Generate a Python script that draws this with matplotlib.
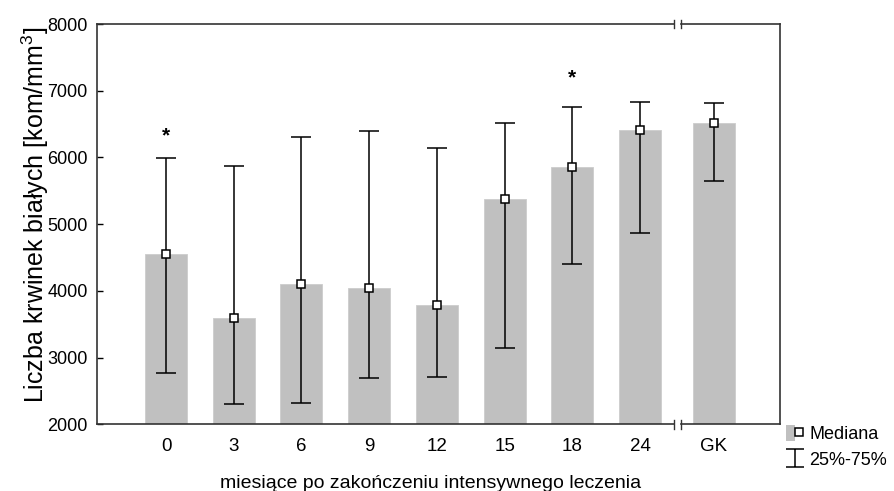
import matplotlib
matplotlib.use("Agg")
import matplotlib.pyplot as plt
from matplotlib.lines import Line2D
from matplotlib.patches import Patch
from matplotlib.path import Path
from matplotlib.legend_handler import HandlerTuple

plt.rcParams['font.family'] = ['Liberation Sans', 'DejaVu Sans']
plt.rcParams['mathtext.fontset'] = 'custom'
plt.rcParams['mathtext.rm'] = 'Liberation Sans'
plt.rcParams['mathtext.default'] = 'regular'

# dane: mediana i kwartyle
labels = ['0', '3', '6', '9', '12', '15', '18', '24', 'GK']
mediana = [4560, 3600, 4100, 4040, 3795, 5375, 5855, 6410, 6510]
q25 = [2770, 2300, 2320, 2690, 2710, 3145, 4410, 4870, 5650]
q75 = [5990, 5875, 6310, 6400, 6145, 6510, 6755, 6825, 6820]
gwiazdki = [6330, None, None, None, None, None, 7190, None, None]

# pozycje na osi x (GK oddzielone przerwa osi)
pos = [0, 1, 2, 3, 4, 5, 6, 7, 8.087]
przerwa = 7.556
gap = 0.052
xmin, xmax = -1.013, 9.068

fig = plt.figure(figsize=(8.95, 4.91), dpi=100)
ax = fig.add_axes([0.1089, 0.1358, 0.7626, 0.8153])

ax.bar(pos, mediana, width=0.62, bottom=0, color='#c0c0c0',
       edgecolor='#cccccc', linewidth=0.6, zorder=1)
err = [[m - a for m, a in zip(mediana, q25)], [b - m for m, b in zip(mediana, q75)]]
ax.errorbar(pos, mediana, yerr=err, fmt='s', ms=6, mfc='white', mec='black',
            mew=1.1, ecolor='black', elinewidth=1.1, capsize=7.5, capthick=1.1,
            zorder=3)

for p, g in zip(pos, gwiazdki):
    if g is not None:
        ax.text(p, g, '*', ha='center', va='center', fontsize=15,
                fontweight='bold', zorder=4)

ax.set_xlim(xmin, xmax)
ax.set_ylim(2000, 8000)
ax.set_yticks([2000, 3000, 4000, 5000, 6000, 7000, 8000])
ax.set_xticks(pos)
ax.set_xticklabels(labels)
ax.tick_params(axis='y', direction='in', length=4, width=1, pad=7, labelsize=13)
ax.tick_params(axis='x', length=0, pad=10, labelsize=13.5)

# ramka z przerwa osi
for s in ['top', 'bottom']:
    ax.spines[s].set_visible(False)
for s in ['left', 'right']:
    ax.spines[s].set_color('#333333')
    ax.spines[s].set_linewidth(1.2)
tr = ax.get_xaxis_transform()
for y in [0, 1]:
    ax.plot([xmin, przerwa - gap], [y, y], color='#333333', lw=1.2,
            transform=tr, clip_on=False, zorder=5)
    ax.plot([przerwa + gap, xmax], [y, y], color='#333333', lw=1.2,
            transform=tr, clip_on=False, zorder=5)
    for xb in [przerwa - gap, przerwa + gap]:
        ax.plot([xb, xb], [y - 0.011, y + 0.011], color='#333333', lw=1.0,
                transform=tr, clip_on=False, zorder=5)

ax.set_ylabel('Liczba krwinek białych [kom/mm$^{3}$]', fontsize=18)
ax.yaxis.set_label_coords(-0.068, 0.523)
ax.set_xlabel('miesiące po zakończeniu intensywnego leczenia', fontsize=14)
ax.xaxis.set_label_coords(0.488, -0.126)

# legenda
wasy = Path([(-1, 1), (1, 1), (0, 1), (0, -1), (-1, -1), (1, -1)],
            [Path.MOVETO, Path.LINETO, Path.MOVETO, Path.LINETO,
             Path.MOVETO, Path.LINETO])
h1 = (Patch(facecolor='#c0c0c0', edgecolor='none'),
      Line2D([], [], marker='s', ls='none', ms=6, mfc='white', mec='black', mew=1.1))
h2 = Line2D([], [], marker=wasy, ls='none', ms=13, color='black', mew=1.1)
fig.legend([h1, h2], ['Mediana', '25%-75%'], loc='upper left',
           bbox_to_anchor=(786 / 895, 1 - 425 / 491), frameon=False,
           fontsize=13, handlelength=0.95, handleheight=0.95, handletextpad=0.35,
           labelspacing=0.45, borderpad=0, borderaxespad=0,
           handler_map={tuple: HandlerTuple(ndivide=None)})

fig.savefig('out.png', dpi=100)
